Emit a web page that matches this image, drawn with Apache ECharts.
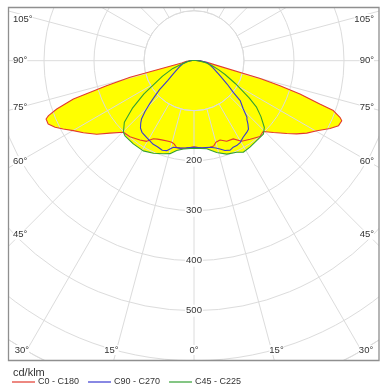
<!DOCTYPE html>
<html><head><meta charset="utf-8">
<script src="https://cdn.jsdelivr.net/npm/echarts@6/dist/echarts.min.js"></script>
<style>html,body{margin:0;padding:0;background:#fff}#c{width:387px;height:391px}</style>
</head><body><div id="c"></div>
<script>
// ---------- data (gamma angle in degrees from nadir, intensity in cd/klm) ----------
// C0 - C180 (red)
const c180Gamma = [0,2.6,6,9.1,11.3,13.5,15.3,17.7,22.2,25,27.5,30.4,34.3,40.1,44.6,49.3,52.9,56.9,59.9,62.4,64.4,66.5,68.5,69.3,70.6,72.4,74.0,75.4,79.4,85,90,100,120,180];
const c180Value = [172,174,176,177,177,171,169,169,171,173,176,187,192,199,201,222,244,264,279,295,308,318,318,311,291,253,182,132,25,15,8,3,0,0];
const c0Gamma = [0,3,6,10.5,13,15,18.2,22.1,26.7,30.6,35.6,41,44.3,47.9,51.9,54.5,57.3,60.3,63.5,65.8,67.9,68.8,70.3,71.0,72.6,73.8,75.0,82.5,88,95,110,180];
const c0Value = [172,174,176,176,175,169,167,174,175,187,193,201,198,214,236,252,268,283,304,317,319,313,296,266,222,179,137,26,12,5,0,0];
// C90 - C270 (blue)
const c270Gamma = [0,5,9,13.4,16.9,19.5,23,26,29,32,36,38.5,40.5,42,44,46,47.5,50,53,58,66,74,82,90,100,120,180];
const c270Value = [173,175,177,178,188,190,187,186,183,180,177,172,164,157,141,122,108,90,66,48,33,24,14,7,3,0,0];
const c90Gamma = [0,5,10.5,14,16.4,19,22,24.4,26.7,29.4,32.7,36.3,38.5,40.5,42,43.1,45.6,49.2,51.1,54.8,60,70,82.4,90,100,120,180];
const c90Value = [173,175,176,180,184,190,193,190,190,188,182,178,175,166,158,155,138,122,101,81,60,40,26,12,3,0,0];
// C45 - C225 (green)
const c225Gamma = [0,6.9,10.9,14.5,18.2,23.7,29.4,36.1,42.6,44.6,48.5,52.3,56.5,63.9,70,75,82,90,100,120,180];
const c225Value = [175,178,183,192,196,202,207,206,204,201,186,156,120,70,45,25,14,7,3,0,0];
const c45Gamma = [0,8.2,13.9,19.3,25,28.3,32.9,38.1,43.4,46.5,50.2,53.5,56,61,66,70,75.5,82,90,100,120,180];
const c45Value = [175,178,189,198,202,208,206,203,202,194,174,155,133,95,68,52,36,20,8,3,0,0];

// axes / labels
const radialMin = 100, radialMax = 670, radialStep = 100;
const radialLabels = [200, 300, 400, 500];
const angleStep = 15;
const sideAngleLabels = [45, 60, 75, 90, 105];
const bottomAngleLabels = [0, 15, 30];
const seriesNames = ['C0 - C180', 'C90 - C270', 'C45 - C225'];
const seriesColors = ['#e23a2e', '#3a3ad0', '#33a033'];

// ---------- layout ----------
const CX = 194, CY = 60.7, R_IN = 50, R_OUT = 335;
const BOX = {l: 9, t: 7, r: 379, b: 360};
const FONT = '"Liberation Sans", Arial, sans-serif';

function loop(lg, lv, rg, rv) {
  const pts = [];
  for (let i = 0; i < lg.length; i++) pts.push([lv[i], lg[i]]);
  for (let i = rg.length - 1; i >= 0; i--) {
    if (rg[i] === 180 && lg[lg.length - 1] === 180) continue;
    pts.push([rv[i], 360 - rg[i]]);
  }
  return pts;
}
const curves = [
  loop(c180Gamma, c180Value, c0Gamma, c0Value),
  loop(c270Gamma, c270Value, c90Gamma, c90Value),
  loop(c225Gamma, c225Value, c45Gamma, c45Value)
];

const series = [];
curves.forEach((d, i) => {
  series.push({
    type: 'line', name: '_fill' + i, coordinateSystem: 'polar', polarIndex: 1,
    data: d, symbol: 'none', silent: true, z: 1,
    lineStyle: {width: 0, opacity: 0},
    areaStyle: {color: '#ffff00', opacity: 1}
  });
});
curves.forEach((d, i) => {
  series.push({
    type: 'line', name: seriesNames[i], coordinateSystem: 'polar', polarIndex: 1,
    data: d, symbol: 'none', silent: true, z: 6,
    color: seriesColors[i],
    lineStyle: {color: seriesColors[i], width: 1.1}
  });
});

// ---------- graphic: masks, frame, edge labels ----------
const graphic = [
  {type: 'rect', shape: {x: 0, y: 0, width: 387, height: BOX.t}, style: {fill: '#fff'}, z: 50, silent: true},
  {type: 'rect', shape: {x: 0, y: 0, width: BOX.l, height: 391}, style: {fill: '#fff'}, z: 50, silent: true},
  {type: 'rect', shape: {x: BOX.r, y: 0, width: 387 - BOX.r, height: 391}, style: {fill: '#fff'}, z: 50, silent: true},
  {type: 'rect', shape: {x: 0, y: BOX.b, width: 387, height: 391 - BOX.b}, style: {fill: '#fff'}, z: 50, silent: true},
  {type: 'rect', shape: {x: BOX.l - 0.5, y: BOX.t + 0.5, width: BOX.r - BOX.l + 0.5, height: BOX.b - BOX.t}, style: {fill: null, stroke: '#8f8f8f', lineWidth: 1.3}, z: 51, silent: true},
  {type: 'text', x: 13, y: 373, style: {text: 'cd/klm', fontSize: 11, fontFamily: FONT, fill: '#333', align: 'left', verticalAlign: 'middle'}, z: 60, silent: true}
];
const lblStyle = (t, al) => ({text: t, fontSize: 9.5, fontFamily: FONT, fill: '#333', align: al, verticalAlign: 'middle', backgroundColor: '#fff'});
sideAngleLabels.forEach(a => {
  const rad = a * Math.PI / 180;
  let y = CY + (CX - 20) * Math.cos(rad) / Math.sin(rad);
  y = Math.max(y, BOX.t + 12);
  graphic.push({type: 'text', x: BOX.l + 4, y: y, style: lblStyle(a + '°', 'left'), z: 52, silent: true});
  graphic.push({type: 'text', x: BOX.r - 5, y: y, style: lblStyle(a + '°', 'right'), z: 52, silent: true});
});
bottomAngleLabels.forEach(a => {
  const rad = a * Math.PI / 180;
  const dx = a === 0 ? 0 : (BOX.b - 10 - CY) * Math.tan(rad) + 5;
  graphic.push({type: 'text', x: CX - dx, y: BOX.b - 10, style: lblStyle(a + '°', 'center'), z: 52, silent: true});
  if (a !== 0) graphic.push({type: 'text', x: CX + dx, y: BOX.b - 10, style: lblStyle(a + '°', 'center'), z: 52, silent: true});
});

const gridColor = '#dcdcdc';
const option = {
  animation: false,
  backgroundColor: '#fff',
  polar: [
    {center: [CX, CY], radius: [R_IN, R_OUT]},
    {center: [CX, CY], radius: R_OUT}
  ],
  angleAxis: [
    {polarIndex: 0, type: 'value', min: 0, max: 360, interval: angleStep, startAngle: 270, clockwise: true, z: 3,
     axisLine: {show: true, lineStyle: {color: gridColor, width: 1}},
     axisTick: {show: false}, axisLabel: {show: false},
     splitLine: {show: true, lineStyle: {color: gridColor, width: 1}}},
    {polarIndex: 1, type: 'value', min: 0, max: 360, startAngle: 270, clockwise: true, show: false}
  ],
  radiusAxis: [
    {polarIndex: 0, type: 'value', min: radialMin, max: radialMax, interval: radialStep, z: 3,
     axisLine: {show: false}, axisTick: {show: false},
     splitLine: {show: true, lineStyle: {color: gridColor, width: 1}},
     axisLabel: {show: true, margin: 0, align: 'center', verticalAlign: 'middle', hideOverlap: false,
       formatter: v => radialLabels.indexOf(v) >= 0 ? '{a|' + v + '}' : '',
       rich: {a: {fontSize: 9.5, fontFamily: FONT, color: '#333', backgroundColor: '#fff', padding: [1, 1]}}}},
    {polarIndex: 1, type: 'value', min: 0, max: radialMax, show: false}
  ],
  legend: {
    left: 12, top: 377.5, padding: 0, itemWidth: 23, itemHeight: 1.2, itemGap: 9, z: 60,
    data: seriesNames, icon: 'rect',
    textStyle: {fontSize: 9, fontFamily: FONT, color: '#333', padding: [0, 0, 0, -2]}
  },
  graphic: graphic,
  series: series
};
const chart = echarts.init(document.getElementById('c'), null, {renderer: 'canvas'});
chart.setOption(option);
</script></body></html>
